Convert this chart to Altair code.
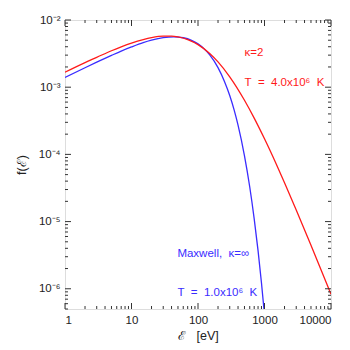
import altair as alt
import pandas as pd

# Maxwell (kappa = inf), T = 1.0e6 K
max_E = [1, 2, 3, 5, 7, 10, 15, 20, 30, 43, 60, 80, 100, 125, 150, 200, 250, 300, 350, 400, 500, 600, 700, 800, 900, 1000, 1050]
max_f = [1.395e-3, 1.949e-3, 2.36e-3, 2.976e-3, 3.45e-3, 3.972e-3, 4.60e-3, 5.003e-3, 5.455e-3, 5.616e-3, 5.444e-3, 4.985e-3, 4.418e-3, 3.69e-3, 3.028e-3, 1.958e-3, 1.22e-3, 7.52e-4, 4.55e-4, 2.72e-4, 9.52e-5, 3.27e-5, 1.10e-5, 3.70e-6, 1.23e-6, 4.09e-7, 2.34e-7]

# kappa = 2, T = 4.0e6 K
kap_E = [1, 2, 3, 5, 7, 10, 15, 20, 30, 40, 50, 70, 100, 150, 200, 300, 500, 700, 1000, 1500, 2000, 3000, 5000, 7000, 10000]
kap_f = [1.671e-3, 2.323e-3, 2.78e-3, 3.489e-3, 3.99e-3, 4.539e-3, 5.12e-3, 5.470e-3, 5.754e-3, 5.748e-3, 5.598e-3, 5.115e-3, 4.308e-3, 3.182e-3, 2.384e-3, 1.430e-3, 6.40e-4, 3.469e-4, 1.708e-4, 7.21e-5, 3.797e-5, 1.493e-5, 4.447e-6, 1.973e-6, 8.27e-7]

x_major = [1, 10, 100, 1000, 10000]
y_major = [1e-6, 1e-5, 1e-4, 1e-3, 1e-2]
x_minor = [m * d for d in [1, 10, 100, 1000] for m in range(2, 10)]
y_minor = [m * d for d in [1e-7, 1e-6, 1e-5, 1e-4, 1e-3] for m in range(2, 10) if m * d >= 5e-7]

NB = "\u00a0"
ann_text = ["κ=2", f"T{NB}{NB}={NB}{NB}4.0x10⁶{NB}{NB}K", "Maxwell,  κ=∞".replace(" ", NB), f"T{NB}{NB}={NB}{NB}1.0x10⁶{NB}{NB}K"]
ann_E = [500, 500, 49, 49]
ann_f = [3.23e-3, 1.16e-3, 3.3e-6, 8.7e-7]
ann_col = ["red", "red", "blue", "blue"]

W, H = 266, 289
XD = [1, 10000]
YD = [5e-7, 1e-2]
FONT = "Liberation Sans"
RED = "#ff1a1a"
BLUE = "#3a2cff"

lines = pd.concat([
    pd.DataFrame({"E": max_E, "f": max_f, "s": "Maxwell"}),
    pd.DataFrame({"E": kap_E, "f": kap_f, "s": "kappa"}),
])

ylabel = ("datum.value > 0.005 ? '10⁻²' : datum.value > 0.0005 ? '10⁻³' : "
          "datum.value > 0.00005 ? '10⁻⁴' : datum.value > 0.000005 ? '10⁻⁵' : '10⁻⁶'")

xs = alt.Scale(type="log", domain=XD)
ys = alt.Scale(type="log", domain=YD)

xax = alt.Axis(values=x_major, format="d", ticks=False, domain=False,
               grid=False, labelFont=FONT, labelFontSize=11.5,
               labelColor="#222", labelPadding=5,
               title=f"ℰ{NB}{NB}{NB}[eV]", titleFont=FONT, titleFontSize=12.5,
               titleFontWeight="normal", titleColor="#222", titlePadding=4)
yax = alt.Axis(values=y_major, labelExpr=ylabel, ticks=False, domain=False,
               grid=False, labelFont=FONT, labelFontSize=11.5,
               labelColor="#222", labelPadding=5,
               title="f(ℰ)", titleFont=FONT, titleFontSize=12.5,
               titleFontWeight="normal", titleColor="#222", titlePadding=10)

line = alt.Chart(lines).mark_line(strokeWidth=1.3, clip=True, interpolate="monotone").encode(
    x=alt.X("E:Q", scale=xs, axis=xax),
    y=alt.Y("f:Q", scale=ys, axis=yax),
    color=alt.Color("s:N", scale=alt.Scale(domain=["Maxwell", "kappa"], range=[BLUE, RED]), legend=None),
)

def xticks(vals, L):
    d = pd.DataFrame({"v": vals})
    b = alt.Chart(d).mark_rule(color="#333", strokeWidth=1).encode(
        x=alt.X("v:Q", scale=xs, axis=xax), y=alt.value(H), y2=alt.value(H - L))
    t = alt.Chart(d).mark_rule(color="#333", strokeWidth=1).encode(
        x=alt.X("v:Q", scale=xs, axis=xax), y=alt.value(0), y2=alt.value(L))
    return [b, t]

def yticks(vals, L):
    d = pd.DataFrame({"v": vals})
    l = alt.Chart(d).mark_rule(color="#333", strokeWidth=1).encode(
        y=alt.Y("v:Q", scale=ys, axis=yax), x=alt.value(0), x2=alt.value(L))
    r = alt.Chart(d).mark_rule(color="#333", strokeWidth=1).encode(
        y=alt.Y("v:Q", scale=ys, axis=yax), x=alt.value(W), x2=alt.value(W - L))
    return [l, r]

ann = pd.DataFrame({"t": ann_text, "E": ann_E, "f": ann_f, "c": ann_col})
text = alt.Chart(ann).mark_text(align="left", baseline="middle", font=FONT, fontSize=11.5).encode(
    x=alt.X("E:Q", scale=xs, axis=xax),
    y=alt.Y("f:Q", scale=ys, axis=yax),
    text="t:N",
    color=alt.Color("c:N", scale=alt.Scale(domain=["red", "blue"], range=[RED, BLUE]), legend=None),
)

layers = [line] + xticks(x_major, 6) + xticks(x_minor, 3) + yticks(y_major, 6) + yticks(y_minor, 3) + [text]

chart = alt.layer(*layers).resolve_scale(color="independent").properties(
    width=W, height=H,
    autosize=alt.AutoSizeParams(type="none"),
    padding={"left": 57, "top": 12, "right": 10, "bottom": 40},
).configure_view(stroke="#333", strokeWidth=1.2).configure(background="white")

chart.save("out.html", embed_options={"renderer": "svg", "actions": False})
